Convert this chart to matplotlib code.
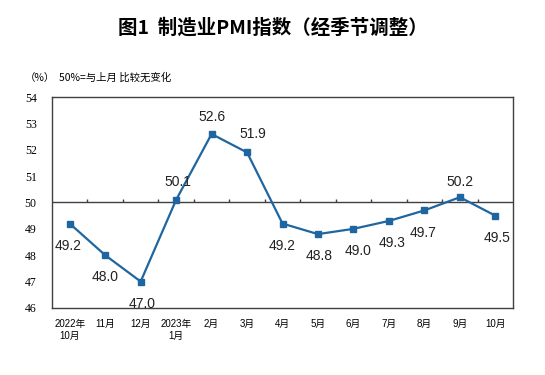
import numpy as np
import matplotlib.pyplot as plt

plt.rcParams['font.family'] = ['Liberation Sans', 'Noto Sans CJK SC']

months = ['2022年\n10月', '11月', '12月', '2023年\n1月', '2月', '3月', '4月',
          '5月', '6月', '7月', '8月', '9月', '10月']
pmi = [49.2, 48.0, 47.0, 50.1, 52.6, 51.9, 49.2, 48.8, 49.0, 49.3, 49.7, 50.2, 49.5]
# label offsets in points (dx, dy)
offsets = [(-1, -16), (0, -16), (1, -16), (1, 13), (0, 12), (4, 13), (0, -16),
           (1, -16), (3, -16), (2, -16), (-1, -16), (0, 11), (1, -16)]

line_color = '#1f66a0'
edge = '#404040'

fig = plt.figure(figsize=(5.45, 3.75), dpi=100)
ax = fig.add_axes([0.0954, 0.179, 0.846, 0.562])

x = np.arange(len(months))
ax.plot(x, pmi, color=line_color, lw=1.6, marker='s', ms=5, zorder=3)
for xi, v, (dx, dy) in zip(x, pmi, offsets):
    ax.annotate(f'{v:.1f}', (xi, v), xytext=(dx, dy), textcoords='offset points',
                ha='center', va='center', fontsize=10, color='#222222')

# 50 reference line with category ticks
ax.axhline(50, color=edge, lw=1, zorder=2)
ax.vlines(x[:-1] + 0.5, 50, 50.15, color=edge, lw=1)

ax.set_xlim(-0.5, len(months) - 0.5)
ax.set_ylim(46, 54)
ax.set_yticks(range(46, 55))
ax.set_yticklabels([str(v) for v in range(46, 55)],
                   fontdict={'family': 'Liberation Serif', 'size': 8.5})
ax.set_xticks(x)
ax.set_xticklabels(months, fontsize=7, linespacing=1.3)
ax.tick_params(axis='both', length=0)
ax.tick_params(axis='y', pad=11)
ax.tick_params(axis='x', pad=8)
for s in ax.spines.values():
    s.set_color(edge)
    s.set_linewidth(1)

fig.text(0.5, 0.925, '图1  制造业PMI指数（经季节调整）', ha='center', va='center',
         fontsize=14, fontweight='bold', family=['Noto Sans CJK SC'])
fig.text(0.045, 0.793, '（%）', ha='left', va='center', fontsize=7.5,
         family=['Noto Sans CJK SC'])
fig.text(0.108, 0.793, '50%=与上月 比较无变化', ha='left', va='center', fontsize=7.5,
         family=['Noto Sans CJK SC'])

fig.savefig('out.png', dpi=100, facecolor='white')
